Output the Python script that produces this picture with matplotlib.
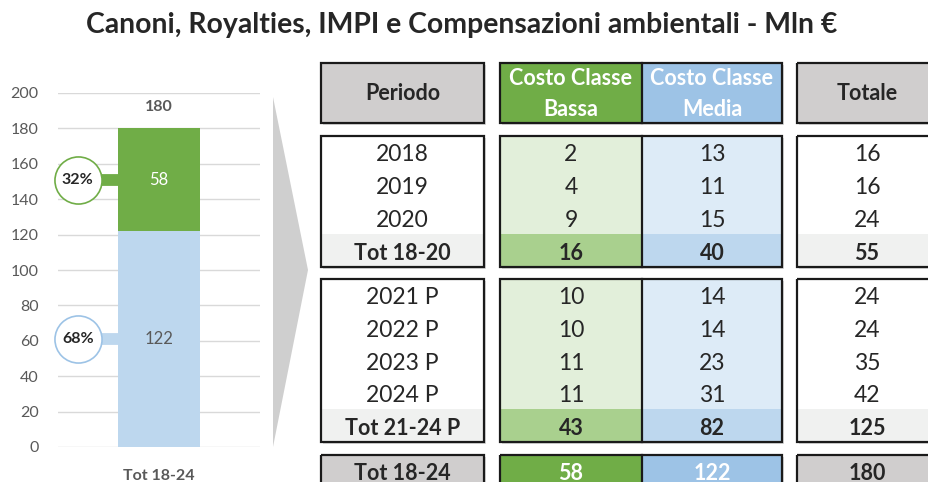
import numpy as np
import matplotlib.pyplot as plt
from matplotlib.patches import Rectangle, Polygon

plt.rcParams['font.family'] = ['Lato', 'DejaVu Sans']

# dati
titolo = 'Canoni, Royalties, IMPI e Compensazioni ambientali - Mln €'
categoria = ['Tot 18-24']
bassa_tot = [58]
media_tot = [122]
quote = ['32%', '68%']

intestazioni = ['Periodo', 'Costo Classe\nBassa', 'Costo Classe\nMedia', 'Totale']
periodi = ['2018', '2019', '2020', 'Tot 18-20',
           '2021 P', '2022 P', '2023 P', '2024 P', 'Tot 21-24 P', 'Tot 18-24']
bassa = [2, 4, 9, 16, 10, 10, 11, 11, 43, 58]
media = [13, 11, 15, 40, 14, 14, 23, 31, 82, 122]
totale = [16, 16, 24, 55, 24, 24, 35, 42, 125, 180]
gruppi = [4, 5, 1]   # righe per blocco della tabella

VERDE = '#70AD47'
AZZURRO = '#9DC3E6'
AZZ_BAR = '#BDD7EE'
GRIGIO_T = '#595959'
NERO = '#262626'

W, H = 929, 482
fig = plt.figure(figsize=(W / 100, H / 100), dpi=100)

# ---- grafico a barre impilate ----
ax = fig.add_axes([58 / W, (H - 447) / H, 202 / W, (447 - 93) / H])
x = np.arange(len(categoria))
ax.bar(x, media_tot, width=1, color=AZZ_BAR, zorder=2)
ax.bar(x, bassa_tot, width=1, bottom=media_tot, color=VERDE, zorder=2)
ax.set_xlim(-1.232, 1.232)
ax.set_ylim(0, 200)
ax.set_yticks(range(0, 201, 20))
ax.grid(axis='y', color='#D9D9D9', lw=1, zorder=0)
for s in ax.spines.values():
    s.set_visible(False)
ax.tick_params(axis='y', length=0, pad=14, labelsize=11.5, labelcolor=GRIGIO_T)
ax.tick_params(axis='x', length=0, pad=16, labelsize=11.5, labelcolor=GRIGIO_T)
ax.set_xticks(x)
ax.set_xticklabels(categoria, fontweight='bold')

tot_bar = [b + m for b, m in zip(bassa_tot, media_tot)]
ax.text(x[0], tot_bar[0] + 12, str(tot_bar[0]), ha='center', va='center',
        fontsize=11.5, fontweight='bold', color=GRIGIO_T)
ax.text(x[0], media_tot[0] + bassa_tot[0] / 2, str(bassa_tot[0]), ha='center', va='center',
        fontsize=12, color='white')
ax.text(x[0], media_tot[0] / 2, str(media_tot[0]), ha='center', va='center',
        fontsize=12, color=GRIGIO_T)

# cerchi con le percentuali
y_mid = [media_tot[0] + bassa_tot[0] / 2, media_tot[0] / 2]
col_c = [VERDE, AZZURRO]
col_l = [VERDE, AZZ_BAR]
for yy, q, cc, cl in zip(y_mid, quote, col_c, col_l):
    ax.plot([-0.75, -0.5], [yy, yy], color=cl, lw=8.5, solid_capstyle='butt',
            clip_on=False, zorder=3)
    ax.scatter([-0.99], [yy], s=1150, facecolor='white', edgecolor=cc, lw=1.2,
               clip_on=False, zorder=4)
    ax.text(-0.99, yy, q, ha='center', va='center', fontsize=11.5, fontweight='bold',
            color=NERO, zorder=5, clip_on=False)

# ---- sovrapposizione in pixel per freccia e tabella ----
ov = fig.add_axes([0, 0, 1, 1], facecolor='none')
ov.set_xlim(0, W)
ov.set_ylim(H, 0)
ov.axis('off')

fig.text(462 / W, 1 - 25 / H, titolo, ha='center', va='center', fontsize=20.4,
         fontweight='bold', color=NERO)

ov.add_patch(Polygon([(273, 97), (273, 447), (308, 270)], closed=True,
                     facecolor='#CFCFCF', edgecolor='none'))

colonne = [(321, 484), (500, 642), (642, 782), (797, 937)]
blocchi = [(136, 267), (279, 442), (455, 495)]
header = (63, 123)

def box(x0, x1, y0, y1, fc):
    ov.add_patch(Rectangle((x0 + 2, y0 + 2), x1 - x0, y1 - y0, facecolor='#D9D9D9',
                           edgecolor='none', zorder=1))
    ov.add_patch(Rectangle((x0, y0), x1 - x0, y1 - y0, facecolor=fc,
                           edgecolor='none', zorder=2))

def bordo(x0, x1, y0, y1):
    ov.add_patch(Rectangle((x0, y0), x1 - x0, y1 - y0, facecolor='none',
                           edgecolor='#1A1A1A', lw=1.6, zorder=4))

# intestazione
fc_head = ['#D0CECE', VERDE, AZZURRO, '#D0CECE']
tc_head = [NERO, 'white', 'white', NERO]
for (x0, x1), fc in zip(colonne, fc_head):
    box(x0, x1, header[0], header[1], fc)
bordo(colonne[0][0], colonne[0][1], *header)
bordo(colonne[1][0], colonne[2][1], *header)
ov.plot([642, 642], header, color='#1A1A1A', lw=1.6, zorder=4)
bordo(colonne[3][0], colonne[3][1], *header)
for (x0, x1), lab, tc in zip(colonne, intestazioni, tc_head):
    ov.text((x0 + x1) / 2 if x1 < 900 else 867, sum(header) / 2 + 1, lab, ha='center',
            va='center', fontsize=15.5, fontweight='bold', color=tc, linespacing=1.55, zorder=5)

# corpo tabella
fc_norm = ['white', '#E2EFDA', '#DDEBF7', 'white']
fc_tot = ['#F0F1F0', '#A9D08E', '#BDD7EE', '#F0F1F0']
fc_fin = ['#D0CECE', VERDE, AZZURRO, '#D0CECE']
tc_fin = [NERO, 'white', 'white', NERO]
xc = [402.5, 571, 712, 867]
i = 0
for g, (y0, y1) in zip(gruppi, blocchi):
    h = (y1 - y0) / g if g > 1 else 31
    for (x0, x1), fc in zip(colonne, fc_norm):
        box(x0, x1, y0, y1, fc)
    for r in range(g):
        ry = y0 + r * h
        ultimo = (r == g - 1)
        finale = (g == 1)
        if ultimo:
            fcs = fc_fin if finale else fc_tot
            for (x0, x1), fc in zip(colonne, fcs):
                ov.add_patch(Rectangle((x0, ry), x1 - x0, y1 - ry if not finale else y1 - y0,
                                       facecolor=fc, edgecolor='none', zorder=3))
        valori = [periodi[i], bassa[i], media[i], totale[i]]
        tcs = tc_fin if finale else [NERO] * 4
        for cx, v, tc in zip(xc, valori, tcs):
            ov.text(cx, ry + h / 2 + 2.5, str(v), ha='center', va='center',
                    fontsize=15.5 if ultimo else 16.5,
                    fontweight='bold' if ultimo else 'normal', color=tc, zorder=5)
        i += 1
    bordo(colonne[0][0], colonne[0][1], y0, y1)
    bordo(colonne[1][0], colonne[2][1], y0, y1)
    ov.plot([642, 642], [y0, y1], color='#1A1A1A', lw=1.6, zorder=4)
    bordo(colonne[3][0], colonne[3][1], y0, y1)

fig.savefig('out.png', dpi=100)
